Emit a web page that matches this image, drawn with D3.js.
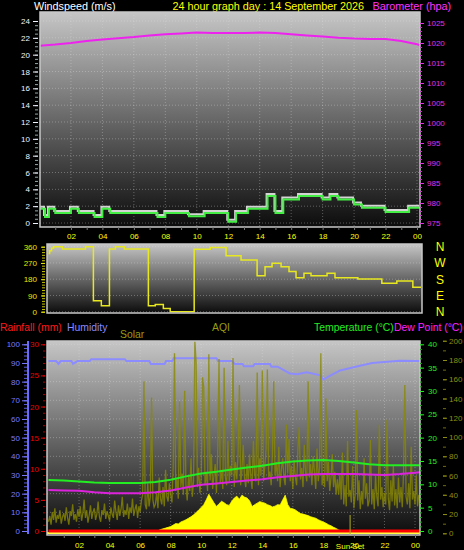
<!DOCTYPE html>
<html><head><meta charset="utf-8">
<script src="https://cdn.jsdelivr.net/npm/d3@7"></script>
<style>body{margin:0;background:#000;}svg{display:block;}</style>
</head><body><script>
// ---------------- DATA ----------------
const titleText = "24 hour graph day : 14 September 2026";
const xTickHours = [2,4,6,8,10,12,14,16,18,20,22,24];
const xTickLabels = ["02","04","06","08","10","12","14","16","18","20","22","00"];

// wind speed (m/s), step series
const windTimes = [0,0.35,0.6,1.0,2.0,2.5,3.5,4.0,4.5,7.5,8.0,9.5,10.5,12.0,12.5,13.25,14.5,15.0,15.5,16.5,18.0,18.5,19.0,20.0,20.5,22.0,23.5,24.2];
const windAvg   = [1.7,0.7,1.7,1.2,1.7,1.2,0.7,1.7,1.2,0.7,1.2,0.8,1.2,0.15,1.2,1.7,3.2,1.2,2.8,3.2,2.8,3.2,2.8,2.2,1.8,1.3,1.8,1.8];
const windTicks = [0,2,4,6,8,10,12,14,16,18,20,22,24];

// barometer (hPa)
const baroTimes = [0,1,2,3,4,5,6,7,8,9,10,11,12,13,14,15,16,17,18,19,20,21,22,23,24,24.2];
const baroVals  = [1019.3,1019.6,1020.0,1020.5,1020.9,1021.2,1021.5,1021.9,1022.2,1022.4,1022.6,1022.5,1022.5,1022.5,1022.6,1022.5,1022.2,1021.9,1021.6,1021.3,1021.1,1021.0,1021.0,1020.5,1019.7,1019.4];
const baroTicks = [975,980,985,990,995,1000,1005,1010,1015,1020,1025];

// wind direction (deg), step series
const dirTimes = [0,0.07,0.2,0.33,0.92,2.42,2.94,3.46,3.99,4.38,4.97,6.54,6.99,7.52,7.97,9.54,10.59,11.63,12.61,13.66,14.18,14.64,15.23,15.75,16.21,16.73,17.19,18.24,18.76,20.26,21.83,22.81,23.86,24.4];
const dirVals  = [322,338,352,360,347,360,61,33,347,360,347,33,40,18,0,346,355,310,286,199,249,268,249,222,188,213,199,213,188,181,157,170,135,135];
const dirTicks = [0,90,180,270,360];
const compassLabels = ["N","W","S","E","N"];
const compassDeg = [360,270,180,90,0];

// humidity (%)
const humTimes = [0,0.5,0.65,0.8,1.5,1.6,1.9,2.7,2.8,5.0,5.1,6.6,6.7,7.6,7.7,8.1,8.2,11.0,11.1,12.0,12.2,12.7,12.8,13.4,13.5,14.5,14.6,15.0,15.8,16.3,16.9,17.8,18.0,18.3,19.1,20.4,21.2,23.0,24.3];
const humVals  = [91,91,89.5,91,91,89.5,91,91,92,92,91,91,89.5,89.5,91,91,92.5,92.5,91,91,89.5,89.5,88.3,88.3,89.5,89.5,88,88,84.4,84,85,83.4,81,82.5,86,88.5,90,91.2,91];
const humTicks = [0,10,20,30,40,50,60,70,80,90,100];

// rainfall (mm)
const rainTimes = [0,24.3];
const rainVals  = [0,0];
const rainTicks = [0,5,10,15,20,25,30];

// temperature & dew point (°C)
const tdTimes = [0,1,2,3,4,5,6,7,8,9,10,11,12,13,14,15,16,17,18,19,20,21,22,23,24,24.3];
const tempVals = [10.9,10.8,10.6,10.4,10.3,10.3,10.3,10.5,11.0,11.7,12.3,12.7,13.2,13.6,14.0,14.5,14.9,15.1,15.2,15.0,14.7,14.3,14.1,14.1,14.1,14.1];
const dewVals  = [8.8,8.7,8.6,8.3,8.1,8.1,8.1,8.3,8.7,9.3,9.9,10.2,10.5,10.8,11.1,11.5,11.8,12.1,12.2,12.2,12.2,12.1,12.0,12.2,12.5,12.6];
const tempTicks = [0,5,10,15,20,25,30,35,40];

// solar (W/m2), 10-minute samples starting 07:00
const solarStartHour = 7, solarStepMin = 10;
const solarVals = [0,12,18,22,26,30,34,42,50,48,58,64,70,78,86,96,108,122,135,150,176,205,182,160,140,155,168,160,150,146,168,185,195,178,200,190,185,170,140,150,158,166,162,158,150,145,138,142,150,148,175,200,150,130,128,122,112,103,100,96,92,86,82,78,70,64,58,52,44,38,30,24,16,10,0];

// AQI, 5-minute samples starting 00:00
const aqiStartHour = 0, aqiStepMin = 5;
const aqiVals = [
 12,18,9,22,14,26,11,19,15,24,10,17,
 21,13,27,16,9,23,18,30,14,20,12,25,
 17,28,13,21,35,16,24,11,19,29,15,22,
 26,14,20,33,17,12,24,19,31,15,23,18,
 13,27,20,16,34,22,14,29,18,25,38,17,
 24,19,31,15,27,21,36,18,25,30,16,28,
 22,34,40,158,30,25,52,28,38,141,35,27,
 30,42,26,58,36,30,48,28,66,38,33,52,
 40,32,70,187,44,56,36,137,48,62,40,148,
 50,34,60,44,78,38,54,200,178,48,68,42,
 58,162,152,50,64,44,186,55,82,46,60,72,
 42,88,181,52,66,46,172,58,50,96,54,70,
 60,182,48,74,56,84,154,50,66,92,58,48,
 72,52,82,58,46,96,62,54,167,50,78,60,
 169,54,70,88,170,58,64,50,84,158,60,74,
 54,90,48,66,78,58,50,113,62,98,54,70,
 46,76,58,50,88,110,56,68,48,92,62,54,
 158,58,72,50,80,64,46,88,54,68,187,50,
 62,48,140,54,74,44,58,82,48,64,40,56,
 40,62,35,84,30,50,28,96,38,45,32,70,
 26,40,128,34,55,25,44,30,78,36,52,28,
 34,97,30,46,25,60,38,28,113,35,48,27,
 42,30,118,36,24,55,33,70,29,46,26,58,
 32,48,27,64,154,38,30,52,26,90,35,44,
 30,60,28,40];
const aqiTicks = [0,20,40,60,80,100,120,140,160,180,200];
const sunsetHour = 19.75;

// ---------------- LAYOUT ----------------
const W = 464, H = 550;
const FONT = "'Liberation Sans', Arial, sans-serif";
const topP = {x0:40, x1:420, y0:12, y1:227};
const midP = {x0:47, x1:422, y0:244, y1:313};
const botP = {x0:47, x1:420, y0:341, y1:535};

const svg = d3.select("body").append("svg").attr("width", W).attr("height", H)
  .style("background", "#000").attr("font-family", FONT);
const defs = svg.append("defs");
const grad = defs.append("linearGradient").attr("id","bg").attr("x1",0).attr("y1",0).attr("x2",0).attr("y2",1);
grad.append("stop").attr("offset","0%").attr("stop-color","#c6c6c6");
grad.append("stop").attr("offset","55%").attr("stop-color","#5e5e5e");
grad.append("stop").attr("offset","100%").attr("stop-color","#0c0c0c");

function panel(p, id){
  defs.append("clipPath").attr("id", id).append("rect")
    .attr("x", p.x0).attr("y", p.y0).attr("width", p.x1-p.x0).attr("height", p.y1-p.y0);
  svg.append("rect").attr("x", p.x0).attr("y", p.y0).attr("width", p.x1-p.x0).attr("height", p.y1-p.y0)
    .attr("fill", "url(#bg)");
  return svg.append("g").attr("clip-path", `url(#${id})`);
}
function frame(p){
  svg.append("rect").attr("x", p.x0).attr("y", p.y0).attr("width", p.x1-p.x0).attr("height", p.y1-p.y0)
    .attr("fill","none").attr("stroke","#c8c8c8").attr("stroke-width",1.5);
}
function styleAxis(g, color, fs){
  g.select(".domain").remove();
  g.selectAll("line").attr("stroke", color);
  g.selectAll("text").attr("fill", color).attr("font-size", fs).attr("font-family", FONT);
}
function grid(g, p, xs, xvals, ys, yvals){
  g.selectAll(null).data(xvals).join("line")
    .attr("x1", d=>xs(d)).attr("x2", d=>xs(d)).attr("y1", p.y0).attr("y2", p.y1)
    .attr("stroke","#e0e0e0").attr("stroke-opacity",0.35).attr("stroke-dasharray","1,2");
  g.selectAll(null).data(yvals).join("line")
    .attr("x1", p.x0).attr("x2", p.x1).attr("y1", d=>ys(d)).attr("y2", d=>ys(d))
    .attr("stroke","#e0e0e0").attr("stroke-opacity",0.35).attr("stroke-dasharray","1,2");
}
const fmtHour = d => xTickLabels[xTickHours.indexOf(d)];
const fmtInt = d3.format("d");

// ---------------- TOP CHART ----------------
const xTop = d3.scaleLinear().domain([0,24]).range([39.5,417]);
const yWind = d3.scaleLinear().domain([0,24]).range([223,21]);
const yBaro = d3.scaleLinear().domain([975,1025]).range([223,23]);

svg.append("text").attr("x",34).attr("y",9.5).attr("fill","#ffffff").attr("font-size",10.8).text("Windspeed (m/s)");
svg.append("text").attr("x",172.5).attr("y",9.5).attr("fill","#ffff00").attr("font-size",10.8).text(titleText);
svg.append("text").attr("x",372.5).attr("y",9.5).attr("fill","#ff33ff").attr("font-size",10.8).text("Barometer (hpa)");

const gTop = panel(topP, "cTop");
grid(gTop, topP, xTop, xTickHours, yWind, windTicks);
const windData = windTimes.map((t,i)=>({t, v:windAvg[i]}));
const windLine = d3.line().x(d=>xTop(d.t)).y(d=>yWind(d.v)).curve(d3.curveStepAfter);
gTop.append("path").datum(windData).attr("d", windLine).attr("fill","none")
  .attr("stroke","#d4d4d4").attr("stroke-width",2).attr("transform","translate(-1,-2)");
gTop.append("path").datum(windData).attr("d", windLine).attr("fill","none")
  .attr("stroke","#44ee44").attr("stroke-width",2);
const baroData = baroTimes.map((t,i)=>({t, v:baroVals[i]}));
gTop.append("path").datum(baroData).attr("d", d3.line().x(d=>xTop(d.t)).y(d=>yBaro(d.v)))
  .attr("fill","none").attr("stroke","#ee22ee").attr("stroke-width",2);
frame(topP);

// left axis (wind)
svg.append("g").attr("transform","translate(38,0)")
  .call(d3.axisLeft(yWind).tickValues(d3.range(0,24.01,0.5)).tickSize(3).tickFormat(""))
  .call(g=>styleAxis(g,"#9aa","8px"));
svg.append("g").attr("transform","translate(38,0)")
  .call(d3.axisLeft(yWind).tickValues(windTicks).tickSize(5).tickPadding(3).tickFormat(fmtInt))
  .call(g=>styleAxis(g,"#f0f4ff","8px"));
// right axis (baro)
svg.append("g").attr("transform",`translate(${topP.x1},0)`)
  .call(d3.axisRight(yBaro).tickValues(d3.range(975,1026,1)).tickSize(2).tickFormat(""))
  .call(g=>styleAxis(g,"#cc22cc","8px"));
svg.append("g").attr("transform",`translate(${topP.x1},0)`)
  .call(d3.axisRight(yBaro).tickValues(baroTicks).tickSize(4).tickPadding(3).tickFormat(fmtInt))
  .call(g=>styleAxis(g,"#e030e0","8px"));
// x axis
svg.append("g").attr("transform",`translate(0,${topP.y1})`)
  .call(d3.axisBottom(xTop).tickValues(d3.range(1,25,1)).tickSize(3).tickFormat(""))
  .call(g=>styleAxis(g,"#777","8px"));
svg.append("g").attr("transform",`translate(0,${topP.y1})`)
  .call(d3.axisBottom(xTop).tickValues(xTickHours).tickSize(0).tickPadding(6).tickFormat(fmtHour))
  .call(g=>styleAxis(g,"#ffff00","8px"));

// ---------------- MIDDLE CHART ----------------
const xBot = d3.scaleLinear().domain([0,24]).range([48.5,415]);
const yDir = d3.scaleLinear().domain([0,360]).range([311.7,246.7]);
const gMid = panel(midP, "cMid");
grid(gMid, midP, xBot, [], yDir, dirTicks);
const dirData = dirTimes.map((t,i)=>({t, v:dirVals[i]}));
gMid.append("path").datum(dirData)
  .attr("d", d3.line().x(d=>xBot(d.t)).y(d=>yDir(d.v)).curve(d3.curveStepAfter))
  .attr("fill","none").attr("stroke","#e8e820").attr("stroke-width",1.5);
frame(midP);
svg.append("g").attr("transform","translate(45,0)")
  .call(d3.axisLeft(yDir).tickValues(d3.range(0,361,15)).tickSize(3).tickFormat(""))
  .call(g=>styleAxis(g,"#c8c800","8px"));
svg.append("g").attr("transform","translate(45,0)")
  .call(d3.axisLeft(yDir).tickValues(dirTicks).tickSize(4).tickPadding(4).tickFormat(fmtInt))
  .call(g=>styleAxis(g,"#e8e800","8px"));
svg.selectAll(null).data(compassLabels).join("text")
  .attr("x",440).attr("y",(d,i)=>yDir(compassDeg[i])+4.5).attr("text-anchor","middle")
  .attr("fill","#ffff00").attr("font-size",12).text(d=>d);

// ---------------- BOTTOM CHART ----------------
const yHum = d3.scaleLinear().domain([0,100]).range([531,344.3]);
const yRain = d3.scaleLinear().domain([0,30]).range([531,344.3]);
const yTemp = d3.scaleLinear().domain([0,40]).range([531,344.3]);
const yAqi = d3.scaleLinear().domain([0,180]).range([533.3,360]);
const ySolar = d3.scaleLinear().domain([0,1000]).range([533,344]);

const hdrY = 331;
svg.append("text").attr("x",0).attr("y",hdrY).attr("fill","#ff1a1a").attr("font-size",10.4).text("Rainfall (mm)");
svg.append("text").attr("x",67).attr("y",hdrY).attr("fill","#8a8aff").attr("font-size",10.4).text("Humidity");
svg.append("text").attr("x",120).attr("y",hdrY+6.5).attr("fill","#9a9a10").attr("font-size",10.4).text("Solar");
svg.append("text").attr("x",212).attr("y",hdrY).attr("fill","#9a9a10").attr("font-size",10.4).text("AQI");
svg.append("text").attr("x",314).attr("y",hdrY).attr("fill","#22ee22").attr("font-size",10.4).text("Temperature (°C)");
svg.append("text").attr("x",394).attr("y",hdrY).attr("fill","#ff22ff").attr("font-size",10.4).text("Dew Point (°C)");

const gBot = panel(botP, "cBot");
grid(gBot, botP, xBot, xTickHours, yHum, humTicks);

const solarData = solarVals.map((v,i)=>({t: solarStartHour + i*solarStepMin/60, v}));
gBot.append("path").datum(solarData)
  .attr("d", d3.area().x(d=>xBot(d.t)).y0(ySolar(0)).y1(d=>ySolar(d.v)))
  .attr("fill","#ffff00").attr("stroke","#ffff00").attr("stroke-width",0.8);

const humData = humTimes.map((t,i)=>({t, v:humVals[i]}));
gBot.append("path").datum(humData).attr("d", d3.line().x(d=>xBot(d.t)).y(d=>yHum(d.v)))
  .attr("fill","none").attr("stroke","#8c8cff").attr("stroke-width",2);

const aqiData = aqiVals.map((v,i)=>({t: aqiStartHour + i*aqiStepMin/60, v}));
gBot.append("path").datum(aqiData).attr("d", d3.line().x(d=>xBot(d.t)).y(d=>yAqi(d.v)))
  .attr("fill","none").attr("stroke","#888800").attr("stroke-opacity",0.8).attr("stroke-width",1.3);

const tdData = tdTimes.map((t,i)=>({t, temp:tempVals[i], dew:dewVals[i]}));
gBot.append("path").datum(tdData).attr("d", d3.line().x(d=>xBot(d.t)).y(d=>yTemp(d.dew)))
  .attr("fill","none").attr("stroke","#dd22dd").attr("stroke-width",2);
gBot.append("path").datum(tdData).attr("d", d3.line().x(d=>xBot(d.t)).y(d=>yTemp(d.temp)))
  .attr("fill","none").attr("stroke","#22ee22").attr("stroke-width",2);

// solar baseline & rain
gBot.append("line").attr("x1",botP.x0).attr("x2",botP.x1).attr("y1",ySolar(0)).attr("y2",ySolar(0))
  .attr("stroke","#ffff44").attr("stroke-width",2);
const rainData = rainTimes.map((t,i)=>({t, v:rainVals[i]}));
gBot.append("path").datum(rainData).attr("d", d3.line().x(d=>xBot(d.t)).y(d=>yRain(d.v)))
  .attr("fill","none").attr("stroke","#ff0000").attr("stroke-width",3);
gBot.append("line").attr("x1",xBot(sunsetHour)).attr("x2",xBot(sunsetHour)).attr("y1",515).attr("y2",botP.y1)
  .attr("stroke","#b0b020").attr("stroke-width",1);
frame(botP);

// humidity axis (blue)
svg.append("line").attr("x1",28).attr("x2",28).attr("y1",341).attr("y2",534)
  .attr("stroke","#6a6aff").attr("stroke-width",2);
svg.append("g").attr("transform","translate(27,0)")
  .call(d3.axisLeft(yHum).tickValues(d3.range(0,101,2)).tickSize(3).tickFormat(""))
  .call(g=>styleAxis(g,"#5a5ae0","8px"));
svg.append("g").attr("transform","translate(27,0)")
  .call(d3.axisLeft(yHum).tickValues(humTicks).tickSize(5).tickPadding(2).tickFormat(fmtInt))
  .call(g=>styleAxis(g,"#7a7aff","8px"));
// rain axis (red)
svg.append("g").attr("transform","translate(45,0)")
  .call(d3.axisLeft(yRain).tickValues(d3.range(0,31,1)).tickSize(2).tickFormat(""))
  .call(g=>styleAxis(g,"#b00000","8px"));
svg.append("g").attr("transform","translate(45,0)")
  .call(d3.axisLeft(yRain).tickValues(rainTicks).tickSize(4).tickPadding(2).tickFormat(fmtInt))
  .call(g=>styleAxis(g,"#ee0000","8px"));
// temperature axis (green)
svg.append("g").attr("transform",`translate(${botP.x1},0)`)
  .call(d3.axisRight(yTemp).tickValues(d3.range(0,41,1)).tickSize(2).tickFormat(""))
  .call(g=>styleAxis(g,"#00b000","8px"));
svg.append("g").attr("transform",`translate(${botP.x1},0)`)
  .call(d3.axisRight(yTemp).tickValues(tempTicks).tickSize(4).tickPadding(4).tickFormat(fmtInt))
  .call(g=>styleAxis(g,"#22ee22","8px"));
// AQI axis (olive)
svg.append("g").attr("transform","translate(443,0)")
  .call(d3.axisRight(yAqi).tickValues(d3.range(0,201,10)).tickSize(3).tickFormat(""))
  .call(g=>styleAxis(g,"#6e6e10","8px"));
svg.append("g").attr("transform","translate(443,0)")
  .call(d3.axisRight(yAqi).tickValues(aqiTicks).tickSize(4).tickPadding(2).tickFormat(fmtInt))
  .call(g=>styleAxis(g,"#8e8e10","8px"));
// bottom x axis
svg.append("g").attr("transform",`translate(0,${botP.y1})`)
  .call(d3.axisBottom(xBot).tickValues(d3.range(1,25,1)).tickSize(3).tickFormat(""))
  .call(g=>styleAxis(g,"#777","8px"));
svg.append("g").attr("transform",`translate(0,${botP.y1})`)
  .call(d3.axisBottom(xBot).tickValues(xTickHours).tickSize(0).tickPadding(7).tickFormat(fmtHour))
  .call(g=>styleAxis(g,"#ffff00","8px"));
svg.append("text").attr("x",xBot(sunsetHour)).attr("y",549).attr("text-anchor","middle")
  .attr("fill","#ffff00").attr("font-size",8).text("Sun Set");
</script></body></html>
